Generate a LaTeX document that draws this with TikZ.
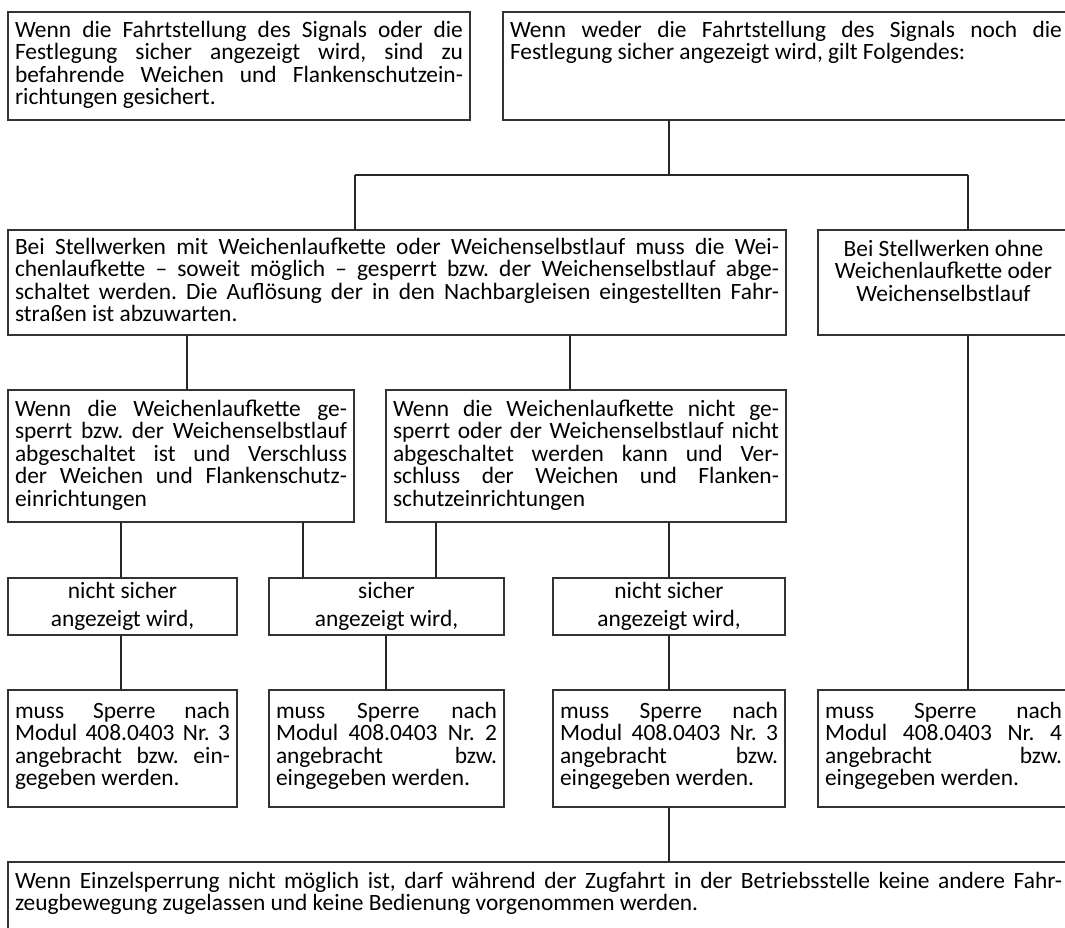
\documentclass[tikz,border=0pt]{standalone}
\usepackage{fontspec}
\setmainfont{Carlito}
\frenchspacing
\newdimen\pxu \pxu=0.5pt
\newdimen\bsk \bsk=11.25pt
\newcommand{\bx}[4]{\vbox to \dimexpr#2\pxu\relax{\hsize=\dimexpr#1\pxu-14\pxu\relax\baselineskip=\bsk\lineskiplimit=-20pt\lineskip=0pt\relax\vskip\dimexpr#3\pxu-\bsk\relax\prevdepth=0pt\relax#4\vfil}}
\newcommand{\jl}[1]{\hbox to\hsize{#1}}
\newcommand{\rl}[1]{\hbox to\hsize{#1\hfil}}
\newcommand{\cl}[1]{\hbox to\hsize{\hfil#1\hfil}}
\hbadness=10000 \hfuzz=30pt
\begin{document}
\begin{tikzpicture}[x=0.5pt,y=-0.5pt,
  font=\fontsize{11.7pt}{11.25pt}\selectfont\frenchspacing,
  box/.style={draw=black!80, line width=0.6pt, inner xsep=3.5pt, inner ysep=0pt, outer sep=0pt, anchor=north west},
  con/.style={draw=black!85, line width=0.55pt}]
\clip (0,0) rectangle (1065,927);
\fill[white] (0,0) rectangle (1065,927);

\node[box] (A) at (8,12) {\bx{462}{108}{25}{%
\jl{Wenn die Fahrtstellung des Signals oder die}%
\jl{Festlegung sicher angezeigt wird, sind zu}%
\jl{befahrende Weichen und Flankenschutzein-}%
\rl{richtungen gesichert.}}};

\node[box] (B) at (503,12) {\bx{566}{108}{25}{%
\jl{Wenn weder die Fahrtstellung des Signals noch die}%
\rl{Festlegung sicher angezeigt wird, gilt Folgendes:}}};

\node[box] (C) at (8,230) {\bx{778}{105}{24}{%
\jl{Bei Stellwerken mit Weichenlaufkette oder Weichenselbstlauf muss die Wei-}%
\jl{chenlaufkette -- soweit möglich -- gesperrt bzw. der Weichenselbstlauf abge-}%
\jl{schaltet werden. Die Auflösung der in den Nachbargleisen eingestellten Fahr-}%
\rl{straßen ist abzuwarten.}}};

\node[box] (D) at (818,230) {\bx{251}{105}{26}{%
\cl{Bei Stellwerken ohne}%
\cl{Weichenlaufkette oder}%
\cl{Weichenselbstlauf}}};

\node[box] (E) at (8,390) {\bx{346}{132}{26}{%
\jl{Wenn die Weichenlaufkette ge-}%
\jl{sperrt bzw. der Weichenselbstlauf}%
\jl{abgeschaltet ist und Verschluss}%
\jl{der Weichen und Flankenschutz-}%
\rl{einrichtungen}}};

\node[box] (F) at (386,390) {\bx{400}{132}{26}{%
\jl{Wenn die Weichenlaufkette nicht ge-}%
\jl{sperrt oder der Weichenselbstlauf nicht}%
\jl{abgeschaltet werden kann und Ver-}%
\jl{schluss der Weichen und Flanken-}%
\rl{schutzeinrichtungen}}};

\node[box] (G1) at (8,578) {\bsk=14pt\bx{229}{57}{20}{%
\cl{nicht sicher}\cl{angezeigt wird,}}};
\node[box] (G2) at (269,578) {\bsk=14pt\bx{235}{57}{20}{%
\cl{sicher}\cl{angezeigt wird,}}};
\node[box] (G3) at (553,578) {\bsk=14pt\bx{232}{57}{20}{%
\cl{nicht sicher}\cl{angezeigt wird,}}};

\node[box] (H1) at (8,690) {\bx{229}{117}{28}{%
\jl{muss Sperre nach}%
\jl{Modul 408.0403 Nr. 3}%
\jl{angebracht bzw. ein-}%
\rl{gegeben werden.}}};
\node[box] (H2) at (269,690) {\bx{235}{117}{28}{%
\jl{muss Sperre nach}%
\jl{Modul 408.0403 Nr. 2}%
\jl{angebracht bzw.}%
\rl{eingegeben werden.}}};
\node[box] (H3) at (553,690) {\bx{232}{117}{28}{%
\jl{muss Sperre nach}%
\jl{Modul 408.0403 Nr. 3}%
\jl{angebracht bzw.}%
\rl{eingegeben werden.}}};
\node[box] (H4) at (818,690) {\bx{251}{117}{28}{%
\jl{muss Sperre nach}%
\jl{Modul 408.0403 Nr. 4}%
\jl{angebracht bzw.}%
\rl{eingegeben werden.}}};

\node[box] (Z) at (8,862) {\bx{1061}{90}{26}{%
\jl{Wenn Einzelsperrung nicht möglich ist, darf während der Zugfahrt in der Betriebsstelle keine andere Fahr-}%
\rl{zeugbewegung zugelassen und keine Bedienung vorgenommen werden.}}};

\coordinate (x121) at (121,0);
\coordinate (x187) at (187,0);
\coordinate (x303) at (303,0);
\coordinate (x386) at (386,0);
\coordinate (x436) at (436,0);
\coordinate (x570) at (570,0);
\coordinate (x669) at (669,0);
\coordinate (j)  at (669,175);
\coordinate (jl) at (355,175);
\coordinate (jr) at (968,175);

\draw[con] (B.south -| j) -- (j);
\draw[con] (jl) -- (jr);
\draw[con] (jl) -- (jl |- C.north);
\draw[con] (jr) -- (jr |- D.north);
\draw[con] (C.south -| x187) -- (E.north -| x187);
\draw[con] (C.south -| x570) -- (F.north -| x570);
\draw[con] (E.south -| x121) -- (G1.north -| x121);
\draw[con] (E.south -| x303) -- (G2.north -| x303);
\draw[con] (F.south -| x436) -- (G2.north -| x436);
\draw[con] (F.south -| x669) -- (G3.north -| x669);
\draw[con] (G1.south -| x121) -- (H1.north -| x121);
\draw[con] (G2.south -| x386) -- (H2.north -| x386);
\draw[con] (G3.south -| x669) -- (H3.north -| x669);
\draw[con] (D.south -| jr) -- (H4.north -| jr);
\draw[con] (H3.south -| x669) -- (Z.north -| x669);
\end{tikzpicture}
\end{document}
